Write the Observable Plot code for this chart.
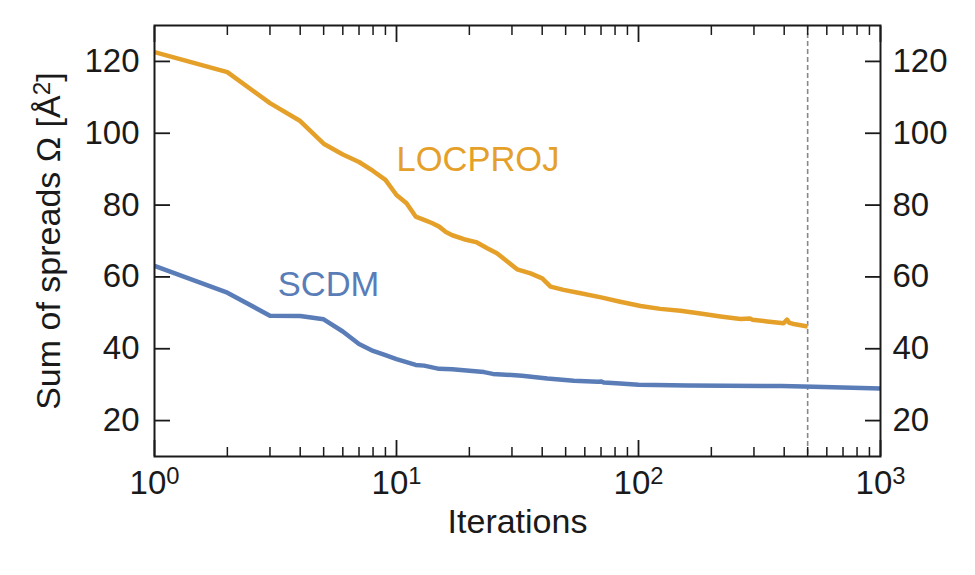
<!DOCTYPE html>
<html><head><meta charset="utf-8">
<script src="https://cdn.jsdelivr.net/npm/d3@7"></script>
<script src="https://cdn.jsdelivr.net/npm/@observablehq/plot@0.6"></script>
<style>body{margin:0;background:#fff} svg{display:block}</style>
</head><body><div id="chart"></div>
<script>
// ---- data ----
const locprojIter  = [1, 2, 3, 4, 5, 6, 7, 8, 9, 10, 11, 12, 13, 14, 15, 16, 17, 19, 21.5, 23.7, 26, 28.7, 31.5, 35.8, 40, 43.3, 49, 57, 70, 84, 102, 123, 149, 180, 218, 264, 290, 295, 340, 398, 411, 420, 438, 500];
const locprojOmega = [122.6, 117.0, 108.4, 103.4, 97.1, 94.1, 92.0, 89.5, 87.0, 82.8, 80.5, 76.8, 75.9, 75.0, 74.0, 72.5, 71.6, 70.5, 69.6, 68.0, 66.6, 64.3, 62.1, 61.0, 59.6, 57.3, 56.4, 55.5, 54.3, 53.1, 51.9, 51.1, 50.6, 49.8, 49.0, 48.3, 48.4, 48.1, 47.6, 47.1, 48.1, 47.2, 46.9, 46.2];
const scdmIter  = [1, 2, 3, 4, 5, 6, 7, 8, 9, 10, 12, 13, 15, 17, 20, 23, 25, 33, 42, 54, 68, 70, 72, 84, 100, 160, 390, 530, 1000];
const scdmOmega = [63.1, 55.6, 49.2, 49.1, 48.2, 44.8, 41.3, 39.4, 38.2, 37.1, 35.5, 35.3, 34.4, 34.3, 33.9, 33.5, 33.0, 32.5, 31.7, 31.1, 30.8, 30.9, 30.6, 30.3, 30.0, 29.8, 29.6, 29.4, 28.9];
const cutoffIter = [500];

const seriesNames = ["LOCPROJ", "SCDM"];
const labelIter  = [10, 3.23];
const labelOmega = [92.7, 57.9];

const xMajorTicks = [1, 10, 100, 1000];
const xTickLabels = ["10^0", "10^1", "10^2", "10^3"];
const xMinorTicks = [2, 3, 4, 5, 6, 7, 8, 9, 20, 30, 40, 50, 60, 70, 80, 90, 200, 300, 400, 500, 600, 700, 800, 900];
const yTicks = [20, 40, 60, 80, 100, 120];
const xLabel = "Iterations";
const yLabel = "Sum of spreads Ω [Å^2]";

// ---- styling ----
const orange = "#E5A02A";
const blue = "#5A7DB8";
const ink = "#1a1a1a";
const font = "Liberation Sans, Arial, Helvetica, sans-serif";
const tickFont = 33;

const locproj = locprojIter.map((x, i) => ({iter: x, omega: locprojOmega[i]}));
const scdm = scdmIter.map((x, i) => ({iter: x, omega: scdmOmega[i]}));
const labels = seriesNames.map((n, i) => ({name: n, iter: labelIter[i], omega: labelOmega[i], color: i === 0 ? orange : blue}));

const chart = Plot.plot({
  width: 975,
  height: 575,
  marginLeft: 154,
  marginRight: 95,
  marginTop: 25,
  marginBottom: 119,
  style: {fontFamily: font, color: ink, background: "#fff"},
  x: {type: "log", domain: [1, 1000]},
  y: {domain: [10, 130]},
  marks: [
    Plot.ruleX(cutoffIter, {stroke: "#888", strokeWidth: 1.6, strokeDasharray: "5,3"}),
    Plot.line(scdm, {x: "iter", y: "omega", stroke: blue, strokeWidth: 4.5, strokeLinejoin: "round", strokeLinecap: "butt"}),
    Plot.line(locproj, {x: "iter", y: "omega", stroke: orange, strokeWidth: 4.5, strokeLinejoin: "round", strokeLinecap: "butt"}),
    Plot.text(labels, {x: "iter", y: "omega", text: "name", fill: "color", textAnchor: "start", fontSize: 34.5, fontFamily: font}),
    // bottom axis: labels
    Plot.axisX(xMajorTicks, {anchor: "bottom", tickSize: 0, tickPadding: 14, tickFormat: (d) => xTickLabels[xMajorTicks.indexOf(d)], fontSize: tickFont, fontFamily: font, fill: ink, label: null}),
    // ticks (inward) on bottom and top
    Plot.axisX(xMajorTicks, {anchor: "bottom", tickSize: -16, tickFormat: () => "", strokeWidth: 1.8, stroke: ink, label: null}),
    Plot.axisX(xMinorTicks, {anchor: "bottom", tickSize: -9, tickFormat: () => "", strokeWidth: 1.5, stroke: ink, label: null}),
    Plot.axisX(xMajorTicks, {anchor: "top", tickSize: -16, tickFormat: () => "", strokeWidth: 1.8, stroke: ink, label: null}),
    Plot.axisX(xMinorTicks, {anchor: "top", tickSize: -9, tickFormat: () => "", strokeWidth: 1.5, stroke: ink, label: null}),
    // y axes
    Plot.axisY(yTicks, {anchor: "left", tickSize: 0, tickPadding: 15, fontSize: tickFont, fontFamily: font, fill: ink, label: null}),
    Plot.axisY(yTicks, {anchor: "right", tickSize: 0, tickPadding: 12, fontSize: tickFont, fontFamily: font, fill: ink, label: null}),
    Plot.axisY(yTicks, {anchor: "left", tickSize: -16, tickFormat: () => "", strokeWidth: 1.8, stroke: ink, label: null}),
    Plot.axisY(yTicks, {anchor: "right", tickSize: -16, tickFormat: () => "", strokeWidth: 1.8, stroke: ink, label: null}),
    Plot.frame({stroke: ink, strokeWidth: 2}),
    // axis titles
    Plot.text([xLabel], {text: (d) => d, frameAnchor: "bottom", textAnchor: "middle", dy: 76, fontSize: 34, fontFamily: font, fill: ink}),
    Plot.text([yLabel], {text: (d) => d, frameAnchor: "left", textAnchor: "middle", rotate: -90, dx: -105, fontSize: 34, fontFamily: font, fill: ink})
  ]
});
document.getElementById("chart").appendChild(chart);

// superscripts
const svg = d3.select(chart);
svg.selectAll("text").each(function() {
  const t = d3.select(this);
  if (t.selectAll("tspan").size() > 0) return;
  const s = t.text();
  const m = s.match(/^(.*)\^(\d)(.*)$/);
  if (!m) return;
  t.text("");
  t.append("tspan").text(m[1]);
  t.append("tspan").attr("dy", "-0.42em").attr("font-size", "0.72em").text(m[2]);
  if (m[3]) t.append("tspan").attr("dy", "0.3em").text(m[3]);
});
</script>
</body></html>
